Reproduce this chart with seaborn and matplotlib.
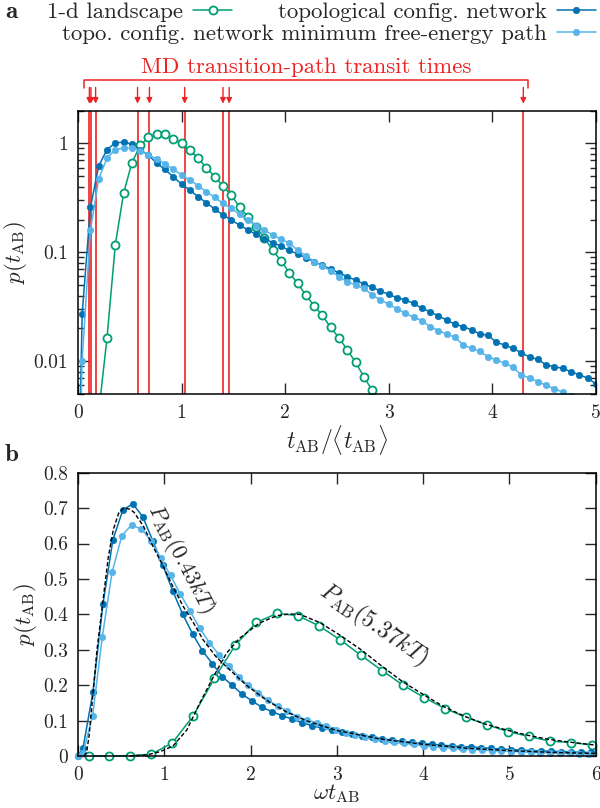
import numpy as np
import pandas as pd
import matplotlib
matplotlib.use("Agg")
import matplotlib.pyplot as plt
import seaborn as sns

# ---------------- data: panel a ----------------
t_a = [0.00, 0.04, 0.12, 0.20, 0.28, 0.36, 0.44, 0.52, 0.60, 0.68, 0.76, 0.84, 0.92, 1.00,
       1.08, 1.16, 1.24, 1.32, 1.40, 1.48, 1.56, 1.64, 1.72, 1.80, 1.88, 1.96, 2.04, 2.12,
       2.20, 2.28, 2.36, 2.44, 2.52, 2.60, 2.68, 2.76, 2.84, 2.92, 3.00, 3.08, 3.16, 3.24,
       3.32, 3.40, 3.48, 3.56, 3.64, 3.72, 3.80, 3.88, 3.96, 4.04, 4.12, 4.20, 4.28, 4.36,
       4.44, 4.52, 4.60, 4.68, 4.76, 4.84, 4.92, 5.00]
net_a = [0.0003, 0.027, 0.26, 0.62, 0.88, 1.01, 1.03, 0.985, 0.88, 0.78, 0.66, 0.577, 0.494, 0.423,
         0.373, 0.324, 0.285, 0.25, 0.221, 0.198, 0.178, 0.161, 0.146, 0.133, 0.123, 0.114, 0.104, 0.097,
         0.089, 0.082, 0.076, 0.070, 0.065, 0.0597, 0.0557, 0.0512, 0.0477, 0.0442, 0.0411, 0.0383, 0.0365, 0.0340,
         0.0306, 0.0285, 0.0260, 0.0239, 0.0218, 0.0208, 0.0194, 0.0178, 0.0173, 0.0149, 0.0141, 0.0131, 0.0120, 0.0109,
         0.0104, 0.00925, 0.0089, 0.0086, 0.0080, 0.0075, 0.0070, 0.0062]
mfep_a = [0.0003, 0.0101, 0.16, 0.473, 0.733, 0.88, 0.91, 0.905, 0.855, 0.786, 0.722, 0.65, 0.58, 0.515,
          0.46, 0.41, 0.36, 0.32, 0.281, 0.254, 0.223, 0.198, 0.176, 0.16, 0.144, 0.132, 0.121, 0.105,
          0.0931, 0.082, 0.0748, 0.0678, 0.0597, 0.0537, 0.0501, 0.0467, 0.0406, 0.0365, 0.0336, 0.0302, 0.0276, 0.0253,
          0.0236, 0.0208, 0.0191, 0.0178, 0.0166, 0.0141, 0.0131, 0.0123, 0.0110, 0.0103, 0.0096, 0.0088, 0.0075, 0.0070,
          0.0065, 0.0060, 0.0056, 0.0052, 0.0048, 0.0045, 0.0042, 0.0040]
t_a_1d = [0.12, 0.20, 0.28, 0.36, 0.44, 0.52, 0.60, 0.68, 0.76, 0.84, 0.92, 1.00, 1.08, 1.16, 1.24,
          1.32, 1.40, 1.48, 1.56, 1.64, 1.72, 1.80, 1.88, 1.96, 2.04, 2.12, 2.20, 2.28, 2.36, 2.44,
          2.52, 2.60, 2.68, 2.76, 2.84, 2.92]
land_a = [0.0001, 0.0034, 0.0163, 0.117, 0.348, 0.664, 0.958, 1.135, 1.225, 1.21, 1.11, 1.0, 0.868, 0.728, 0.6,
          0.494, 0.406, 0.334, 0.262, 0.212, 0.17, 0.136, 0.104, 0.084, 0.065, 0.052, 0.0405, 0.0324, 0.0263, 0.0204,
          0.0164, 0.0127, 0.0098, 0.0072, 0.0054, 0.004]
md_times = [0.11, 0.125, 0.17, 0.575, 0.69, 1.03, 1.40, 1.46, 4.30]
md_span = [0.058, 4.35]

# ---------------- data: panel b ----------------
w_net = [0.0, 0.058, 0.173, 0.289, 0.404, 0.52, 0.635, 0.75, 0.866, 0.981, 1.096, 1.212, 1.327, 1.442,
         1.558, 1.673, 1.789, 1.904, 2.019, 2.135, 2.25, 2.366, 2.481, 2.596, 2.712, 2.827, 2.943, 3.058,
         3.174, 3.289, 3.404, 3.52, 3.635, 3.751, 3.866, 3.981, 4.097, 4.212, 4.328, 4.443, 4.558, 4.674,
         4.789, 4.905, 5.02, 5.135, 5.251, 5.366, 5.482, 5.597, 5.712, 5.828, 5.943]
net_b = [0.0, 0.022, 0.18, 0.428, 0.61, 0.695, 0.712, 0.676, 0.608, 0.54, 0.467, 0.401, 0.345, 0.297,
         0.26, 0.224, 0.199, 0.174, 0.155, 0.137, 0.125, 0.114, 0.104, 0.094, 0.0853, 0.079, 0.072, 0.067,
         0.0617, 0.0568, 0.0527, 0.0485, 0.045, 0.0414, 0.0386, 0.0355, 0.0331, 0.0306, 0.0285, 0.0266, 0.0253, 0.0236,
         0.0212, 0.0198, 0.018, 0.0166, 0.0151, 0.0144, 0.0134, 0.0123, 0.012, 0.0103, 0.0098]
w_mfep = [0.0, 0.056, 0.169, 0.282, 0.395, 0.508, 0.62, 0.733, 0.846, 0.959, 1.072, 1.184, 1.297, 1.41,
          1.523, 1.636, 1.748, 1.861, 1.974, 2.087, 2.2, 2.312, 2.425, 2.538, 2.651, 2.764, 2.876, 2.989,
          3.102, 3.215, 3.328, 3.44, 3.553, 3.666, 3.779, 3.892, 4.004, 4.117, 4.23, 4.343, 4.456, 4.568,
          4.681, 4.794, 4.907, 5.02, 5.132, 5.245, 5.358, 5.471, 5.584, 5.696, 5.809, 5.922]
mfep_b = [0.0, 0.007, 0.113, 0.337, 0.519, 0.622, 0.652, 0.641, 0.608, 0.558, 0.51, 0.458, 0.41, 0.361,
          0.32, 0.285, 0.254, 0.224, 0.199, 0.179, 0.158, 0.141, 0.128, 0.111, 0.102, 0.0936, 0.0858, 0.0745,
          0.066, 0.0582, 0.053, 0.0481, 0.0423, 0.0381, 0.0355, 0.0331, 0.0288, 0.0259, 0.0238, 0.0214, 0.0196, 0.0179,
          0.0167, 0.0148, 0.0135, 0.0126, 0.0118, 0.01, 0.0093, 0.0087, 0.0078, 0.0073, 0.0068, 0.0062]
w_land = [0.122, 0.365, 0.608, 0.851, 1.094, 1.337, 1.58, 1.823, 2.066, 2.309, 2.552, 2.795, 3.038,
          3.281, 3.524, 3.767, 4.01, 4.253, 4.496, 4.739, 4.982, 5.225, 5.468, 5.711, 5.954]
land_b = [0.0, 0.0, 0.001, 0.005, 0.037, 0.114, 0.219, 0.313, 0.377, 0.403, 0.396, 0.367, 0.328,
          0.284, 0.241, 0.2, 0.165, 0.134, 0.109, 0.088, 0.069, 0.055, 0.042, 0.038, 0.031]
w_th1 = [0.07, 0.10, 0.13, 0.16, 0.19, 0.22, 0.26, 0.30, 0.35, 0.41, 0.47, 0.53, 0.60, 0.65, 0.76, 0.87,
         0.99, 1.10, 1.22, 1.34, 1.45, 1.60, 1.72, 1.95, 2.18, 2.41, 2.64, 3.0, 3.5, 4.0, 4.5, 5.0, 5.5, 6.0]
th1 = [0.0, 0.01, 0.06, 0.14, 0.22, 0.30, 0.38, 0.46, 0.56, 0.64, 0.685, 0.70, 0.697, 0.688, 0.648, 0.591,
       0.535, 0.478, 0.422, 0.375, 0.328, 0.28, 0.252, 0.2, 0.158, 0.125, 0.1, 0.072, 0.048, 0.033, 0.022, 0.015, 0.01, 0.007]
w_th2 = [0.6, 0.8, 0.95, 1.1, 1.26, 1.41, 1.57, 1.72, 1.87, 2.1, 2.3, 2.45, 2.57, 2.8, 3.03, 3.28, 3.53,
         3.76, 4.01, 4.24, 4.49, 4.72, 4.97, 5.22, 5.45, 5.7, 5.95, 6.0]
th2 = [0.0, 0.003, 0.012, 0.028, 0.073, 0.149, 0.224, 0.29, 0.332, 0.375, 0.396, 0.401, 0.40, 0.377, 0.342, 0.3, 0.252,
       0.21, 0.172, 0.139, 0.111, 0.09, 0.073, 0.058, 0.047, 0.039, 0.032, 0.031]

labels = ["1-d landscape", "topological config. network", "topo. config. network minimum free-energy path"]
GREEN, DARK, LIGHT, RED = "#009e73", "#0072b2", "#56b4e9", "#ee2222"

# ---------------- style ----------------
sns.set_style("ticks")
plt.rcParams.update({
    "font.family": "serif",
    "font.serif": ["cmr10", "DejaVu Serif"],
    "mathtext.fontset": "cm",
    "axes.unicode_minus": False,
    "axes.formatter.use_mathtext": True,
    "font.size": 14,
    "axes.linewidth": 1.1,
    "axes.edgecolor": "black",
})

fig = plt.figure(figsize=(6.0, 8.08), dpi=100)
axA = fig.add_axes([0.13, 0.5124, 0.863, 0.3506])
axB = fig.add_axes([0.13, 0.0644, 0.863, 0.3506])

def draw(ax, x, y, color, hollow=False, ms=4.6):
    kw = dict(marker="o", markersize=ms, linewidth=1.1, color=color,
              markeredgecolor=color, sort=False, estimator=None, legend=False, ax=ax, zorder=3)
    if hollow:
        kw.update(markerfacecolor="white", markeredgewidth=1.3, markersize=5.8)
    else:
        kw.update(markeredgewidth=0.5)
    sns.lineplot(x=x, y=y, **kw)

# ---- panel a ----
for t in md_times:
    axA.axvline(t, color=RED, lw=1.2, zorder=1)
draw(axA, t_a_1d, land_a, GREEN, hollow=True)
draw(axA, t_a, net_a, DARK)
draw(axA, t_a, mfep_a, LIGHT)
axA.set_yscale("log")
axA.set_xlim(0, 5)
axA.set_ylim(0.005, 2.0)
axA.set_xticks([0, 1, 2, 3, 4, 5])
axA.set_xticklabels(["0", "1", "2", "3", "4", "5"])
axA.set_yticks([0.01, 0.1, 1])
axA.set_yticklabels(["0.01", "0.1", "1"])
axA.set_xlabel(r"$t_{\rm AB}/\langle t_{\rm AB}\rangle$", fontsize=17, labelpad=1)
axA.set_ylabel(r"$p(t_{\rm AB})$", fontsize=16.5, labelpad=3)

trA = axA.get_xaxis_transform()
for t in md_times:
    axA.annotate("", xy=(t, 1.025), xytext=(t, 1.082), xycoords=trA, textcoords=trA,
                 arrowprops=dict(arrowstyle="-|>", color=RED, lw=1.0, mutation_scale=8,
                                 shrinkA=0, shrinkB=0), annotation_clip=False)
axA.plot([md_span[0], md_span[0], md_span[1], md_span[1]], [1.08, 1.108, 1.108, 1.08],
         color=RED, lw=1.1, transform=trA, clip_on=False)
axA.text(sum(md_span) / 2, 1.154, "MD transition-path transit times", color=RED,
         transform=trA, ha="center", va="center", fontsize=16.5)

# ---- panel b ----
draw(axB, w_land, land_b, GREEN, hollow=True)
draw(axB, w_net, net_b, DARK)
draw(axB, w_mfep, mfep_b, LIGHT)
sns.lineplot(x=w_th1, y=th1, ax=axB, color="black", lw=1.0, sort=False, estimator=None,
             legend=False, zorder=4)
sns.lineplot(x=w_th2, y=th2, ax=axB, color="black", lw=1.0, sort=False, estimator=None,
             legend=False, zorder=4)
for ln in axB.lines[-2:]:
    ln.set_dashes([3, 1.6])
axB.set_xlim(0, 6)
axB.set_ylim(0, 0.8)
axB.set_xticks(range(7))
axB.set_xticklabels([str(i) for i in range(7)])
axB.set_yticks([0, 0.1, 0.2, 0.3, 0.4, 0.5, 0.6, 0.7, 0.8])
axB.set_yticklabels(["0", "0.1", "0.2", "0.3", "0.4", "0.5", "0.6", "0.7", "0.8"])
axB.set_xlabel(r"$\omega t_{\rm AB}$", fontsize=16.5, labelpad=-1)
axB.set_ylabel(r"$p(t_{\rm AB})$", fontsize=16.5, labelpad=3)
for ln in axB.lines:
    ln.set_clip_on(False)
axB.text(1.19, 0.557, r"$P_{\rm AB}(0.43kT)$", rotation=-62.5, ha="center", va="center",
         fontsize=16, rotation_mode="anchor")
axB.text(3.42, 0.370, r"$P_{\rm AB}(5.37kT)$", rotation=-34.5, ha="center", va="center",
         fontsize=17, rotation_mode="anchor")

for ax in (axA, axB):
    ax.tick_params(which="both", direction="in", top=True, right=True, labelsize=14, pad=7, width=1.0)
    ax.tick_params(which="major", length=8)
    ax.tick_params(which="minor", length=4.5)
    for s in ax.spines.values():
        s.set_linewidth(1.1)
        s.set_zorder(5)
axB.minorticks_off()
axA.tick_params(axis="x", which="minor", bottom=False, top=False)

# ---- legend (figure-level, gnuplot style: marker after label) ----
hl = axA.lines
h_land = [l for l in hl if l.get_color() == GREEN][0]
h_net = [l for l in hl if l.get_color() == DARK][0]
h_mfep = [l for l in hl if l.get_color() == LIGHT][0]
legkw = dict(loc="center right", frameon=False, markerfirst=False, handlelength=1.7,
             handletextpad=0.45, borderpad=0, borderaxespad=0, fontsize=16.5)
fig.legend([h_land], labels[:1], bbox_to_anchor=(0.387, 0.9855), **legkw)
fig.legend([h_net], labels[1:2], bbox_to_anchor=(0.993, 0.9855), **legkw)
fig.legend([h_mfep], labels[2:], bbox_to_anchor=(0.993, 0.9585), **legkw)

fig.text(0.008, 0.985, "a", fontsize=18, fontweight="bold", family="cmb10", va="center")
fig.text(0.008, 0.437, "b", fontsize=18, fontweight="bold", family="cmb10", va="center")

fig.savefig("out.png", dpi=100)
